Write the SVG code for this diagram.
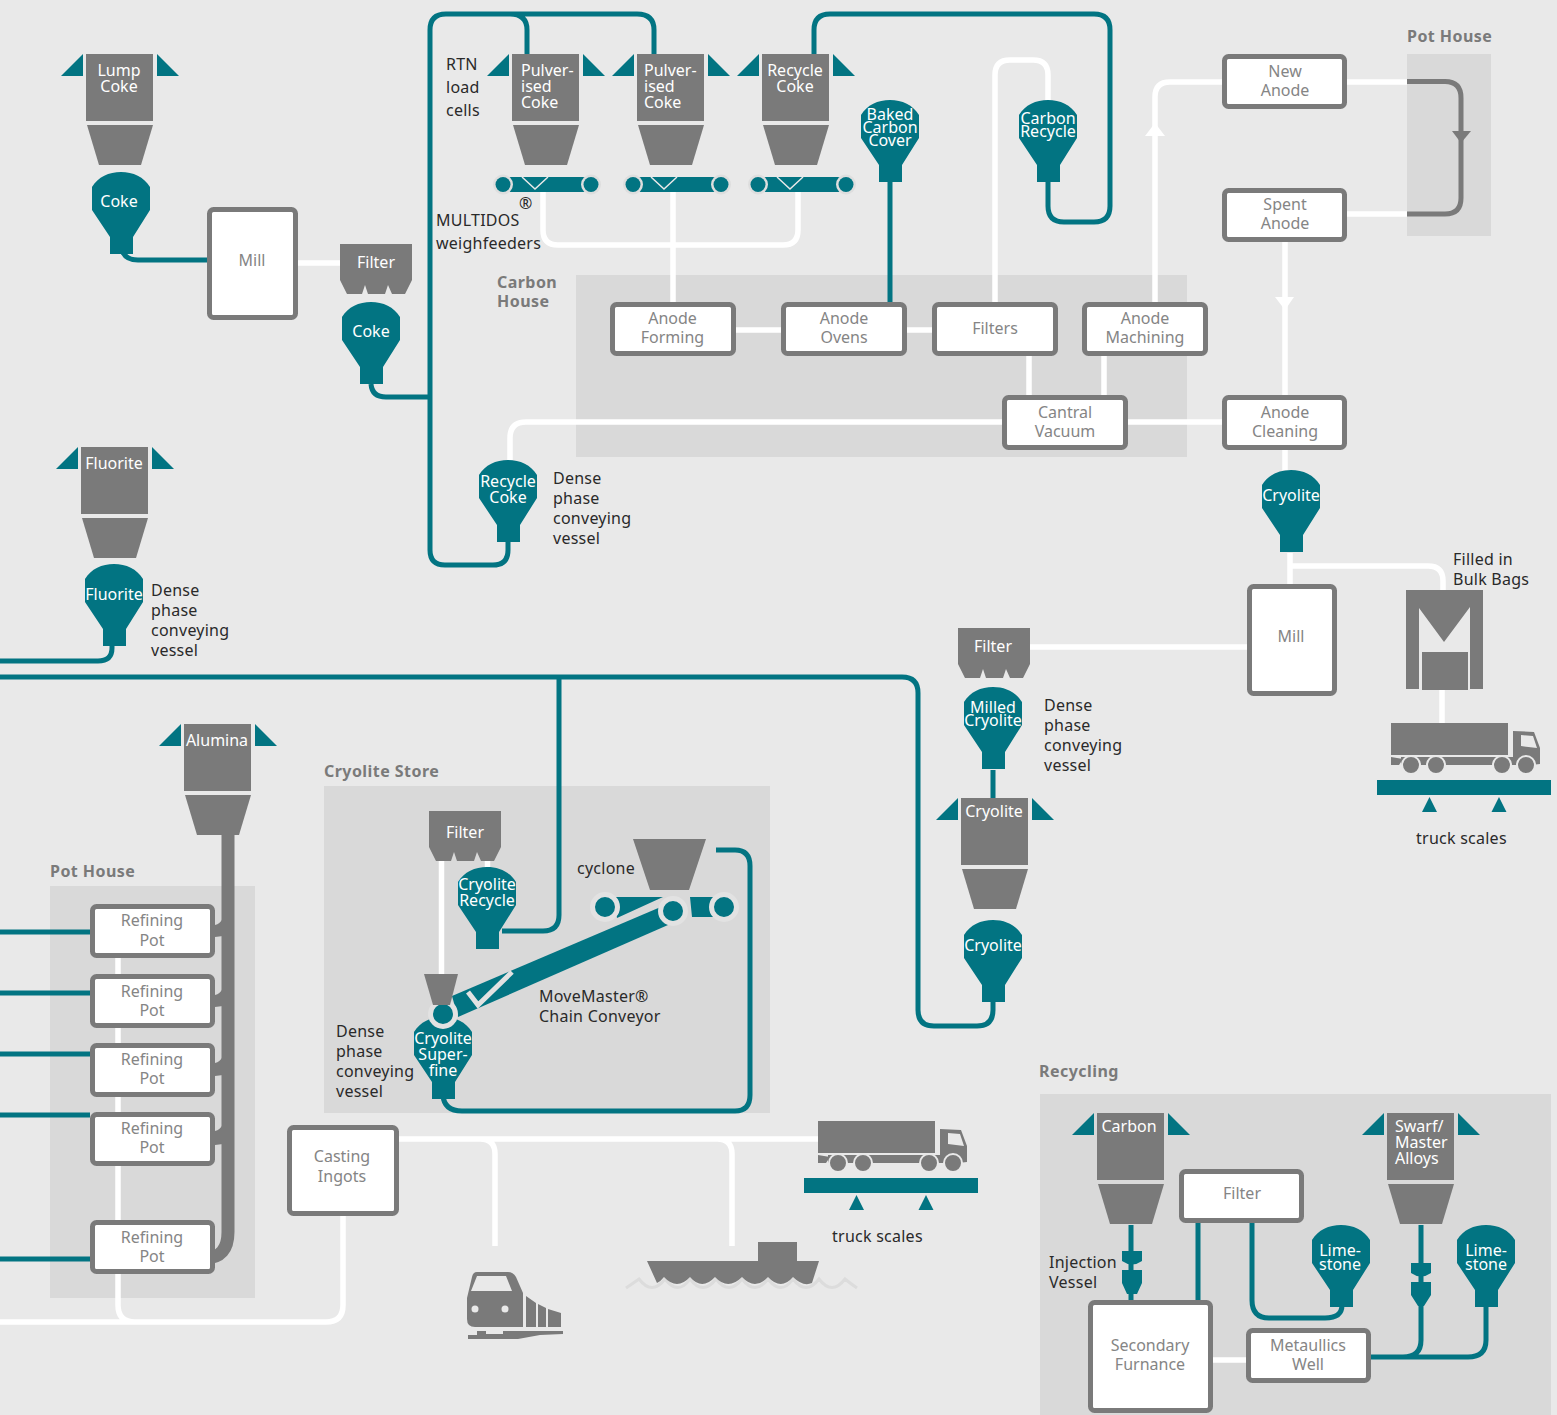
<svg xmlns="http://www.w3.org/2000/svg" xmlns:xlink="http://www.w3.org/1999/xlink" width="1557" height="1415" viewBox="0 0 1557 1415">
<style>
text{font-family:"Noto Sans","Open Sans","Liberation Sans",sans-serif;font-size:16px}
.panel{fill:#d9d9d9}
.box{fill:#fff;stroke:#7a7a7a;stroke-width:5}
.bt{fill:#858585;text-anchor:middle}
.wc{fill:#fff;text-anchor:middle}
.wl{fill:#fff}
.lab{fill:#2a2a2a;letter-spacing:.25px}
.hd{fill:#7a7a7a;font-weight:700;letter-spacing:.45px}
.g{fill:#7a7a7a}
.t{fill:#027482}
.wh{fill:none;stroke:#fff;stroke-width:5.5}
.tl{fill:none;stroke:#027482;stroke-width:5}
.gl{fill:none;stroke:#7a7a7a;stroke-width:5}
</style>
<defs>
<g id="silo"><rect class="g" width="67" height="67"/><path class="g" d="M1,71H67L55,111H13Z"/><path class="t" d="M-25,22H-3V0ZM71,0V22H93Z"/></g>
<path id="vessel" class="t" d="M0,15C6,5 17,0 29,0C41,0 52,5 58,15V38L41,65V82H18V65L0,38Z"/>
<path id="filter" class="g" d="M0,0H72V36L65,50H52L48,41L45,50H28L25,41L22,50H7L0,36Z"/>
<g id="belt"><rect class="t" x="8" y="0" width="88" height="15"/><circle cx="8" cy="7.5" r="10" fill="#dedede"/><circle cx="96" cy="7.5" r="10" fill="#dedede"/><circle class="t" cx="8" cy="7.5" r="7.5"/><circle class="t" cx="96" cy="7.5" r="7.5"/></g>
<g id="truck"><rect class="g" width="117" height="32"/><path class="g" d="M0,34L12,36L8,42H0ZM10,34H122V8L143,9L149,25V41L140,42H10Z"/><path fill="#e9e9e9" d="M130,12L142,13L146,25L130,23Z"/><g class="g" stroke="#e9e9e9" stroke-width="2"><circle cx="20" cy="42" r="9"/><circle cx="45" cy="42" r="9"/><circle cx="111" cy="42" r="9"/><circle cx="135" cy="42" r="9"/></g></g>
<g id="scale"><rect class="t" width="174" height="15"/><path class="t" d="M45,32L52.5,17L60,32ZM114.500,32L122,17L129.500,32Z"/></g>
</defs>
<rect width="1557" height="1415" fill="#e9e9e9"/>
<g id="panels">
<rect class="panel" x="1407" y="54" width="84" height="182"/>
<rect class="panel" x="576" y="275" width="611" height="182"/>
<rect class="panel" x="324" y="786" width="446" height="327"/>
<rect class="panel" x="50" y="886" width="205" height="412"/>
<rect class="panel" x="1040" y="1094" width="511" height="321"/>
<text class="hd" x="1407" y="42">Pot House</text>
<text class="hd" x="497" y="288">Carbon</text>
<text class="hd" x="497" y="307">House</text>
<text class="hd" x="324" y="777">Cryolite Store</text>
<text class="hd" x="50" y="877">Pot House</text>
<text class="hd" x="1039" y="1077">Recycling</text>
</g>
<g id="connectors">
<path class="wh" d="M298,263H340M543,192V230Q543,245 558,245H783Q798,245 798,230V192M673,192V302M736,330H781M907,330H932M995,303V75Q995,60 1010,60H1033Q1048,60 1048,75V100M1155,303V97Q1155,82 1170,82H1222M1347,82H1407M1347,214H1407M1285,241V395M1285,450V470M1029,356V395M1104,356V395M1128,422H1222M510,460V438Q510,422 526,422H1002M1290,553V584M1290,566H1428Q1443,566 1443,581V590M1442,690V723M1029,647H1247M441.500,861V975M487.500,861V867M118,958V1305Q118,1322 135,1322H326Q343,1322 343,1305V1216M0,1322H135M399,1139H818M480,1139Q495,1139 495,1154V1246M717,1139Q732,1139 732,1154V1246M1213,1360H1246"/>
<path fill="#fff" d="M1145,136H1165L1155,123ZM1275,297H1294L1285,310Z"/>
<path class="gl" d="M1407,81.500H1445Q1461,81.500 1461,98V198Q1461,214 1445,214H1407"/>
<path class="g" d="M1452,131H1471L1461,143Z"/>
<path class="tl" d="M508,540V550Q508,565 493,565H445Q430,565 430,550V30Q430,14 446,14H637Q654,14 654,30V54M510,14Q527,14 527,30V54M814,54V30Q814,14 830,14H1094Q1110,14 1110,30V206Q1110,222 1094,222H1064Q1048,222 1048,206V180M890,180V303M122,250Q125,260 138,260H207M371,384Q372,397 386,397H430M112,645V648Q112,661 98,661H0M993,1000V1010Q993,1026 977,1026H934Q918,1026 918,1010V693Q918,677 902,677H0M559,677V915Q559,931 543,931H502M993,770V798M443,1095Q444,1111 462,1111H735Q750,1111 750,1095V866Q750,850 735,850H716M0,932H90M0,993H90M0,1054H90M0,1115H90M0,1259H90M1131,1225V1302M1198,1223V1300M1252,1223V1300Q1252,1318 1269,1318H1325Q1342,1318 1342,1305M1371,1357H1468Q1486,1357 1486,1340V1307M1421,1225V1340Q1421,1357 1403,1357"/>
<path fill="none" stroke="#7a7a7a" stroke-width="13" d="M228,834V1232Q228,1258 205,1258"/>
<path class="g" d="M215,925Q220,924 223,918V936L215,937ZM215,995Q220,994 223,988V1006L215,1007ZM215,1063Q220,1062 223,1056V1075L215,1076ZM215,1131Q220,1130 223,1124V1144L215,1145Z"/>
</g>
<g id="lump-coke-silo"><use href="#silo" x="86" y="54"/><text class="wc" x="119" y="76">Lump</text><text class="wc" x="119" y="92">Coke</text></g>
<g id="coke-vessel-1"><use href="#vessel" x="92" y="172"/><text class="wc" x="119" y="207">Coke</text></g>
<g id="mill-1"><rect class="box" x="209.500" y="209.500" width="86" height="108" rx="4"/><text class="bt" x="252" y="266">Mill</text></g>
<g id="filter-1"><use href="#filter" x="340" y="244"/><text class="wc" x="376" y="268">Filter</text></g>
<g id="coke-vessel-2"><use href="#vessel" x="342" y="302"/><text class="wc" x="371" y="337">Coke</text></g>
<g id="pulverised-silo-1"><use href="#silo" x="512" y="54"/><text class="wl" x="521" y="76">Pulver-</text><text class="wl" x="521" y="92">ised</text><text class="wl" x="521" y="108">Coke</text></g>
<g id="pulverised-silo-2"><use href="#silo" x="637" y="54"/><text class="wl" x="644" y="76">Pulver-</text><text class="wl" x="644" y="92">ised</text><text class="wl" x="644" y="108">Coke</text></g>
<g id="recycle-coke-silo"><use href="#silo" x="762" y="54"/><text class="wc" x="795" y="76">Recycle</text><text class="wc" x="795" y="92">Coke</text></g>
<g id="weighfeeder-1"><use href="#belt" x="495" y="177"/><path fill="none" stroke="#e9e9e9" stroke-width="1.500" d="M522,177L535,189L548,177"/></g>
<g id="weighfeeder-2"><use href="#belt" x="625" y="177"/><path fill="none" stroke="#e9e9e9" stroke-width="1.500" d="M651,177L664,189L677,177"/></g>
<g id="weighfeeder-3"><use href="#belt" x="750" y="177"/><path fill="none" stroke="#e9e9e9" stroke-width="1.500" d="M777,177L790,189L803,177"/></g>
<g id="baked-carbon-cover"><use href="#vessel" x="861" y="100"/><text class="wc" x="890" y="120">Baked</text><text class="wc" x="890" y="133">Carbon</text><text class="wc" x="890" y="146">Cover</text></g>
<g id="carbon-recycle"><use href="#vessel" x="1019" y="100"/><text class="wc" x="1048" y="124">Carbon</text><text class="wc" x="1048" y="137">Recycle</text></g>
<g id="new-anode"><rect class="box" x="1224.500" y="56.500" width="120" height="50" rx="4"/><text class="bt" x="1285" y="77">New</text><text class="bt" x="1285" y="96">Anode</text></g>
<g id="spent-anode"><rect class="box" x="1224.500" y="190.500" width="120" height="49" rx="4"/><text class="bt" x="1285" y="210">Spent</text><text class="bt" x="1285" y="229">Anode</text></g>
<g id="anode-forming"><rect class="box" x="612.500" y="304.500" width="121" height="49" rx="4"/><text class="bt" x="672.500" y="324">Anode</text><text class="bt" x="672.500" y="343">Forming</text></g>
<g id="anode-ovens"><rect class="box" x="783.500" y="304.500" width="121" height="49" rx="4"/><text class="bt" x="844" y="324">Anode</text><text class="bt" x="844" y="343">Ovens</text></g>
<g id="filters"><rect class="box" x="934.500" y="304.500" width="121" height="49" rx="4"/><text class="bt" x="995" y="334">Filters</text></g>
<g id="anode-machining"><rect class="box" x="1084.500" y="304.500" width="121" height="49" rx="4"/><text class="bt" x="1145" y="324">Anode</text><text class="bt" x="1145" y="343">Machining</text></g>
<g id="cantral-vacuum"><rect class="box" x="1004.500" y="397.500" width="121" height="50" rx="4"/><text class="bt" x="1065" y="418">Cantral</text><text class="bt" x="1065" y="437">Vacuum</text></g>
<g id="anode-cleaning"><rect class="box" x="1224.500" y="397.500" width="120" height="50" rx="4"/><text class="bt" x="1285" y="418">Anode</text><text class="bt" x="1285" y="437">Cleaning</text></g>
<g id="recycle-coke-vessel"><use href="#vessel" x="479" y="460"/><text class="wc" x="508" y="487">Recycle</text><text class="wc" x="508" y="503">Coke</text></g>
<g id="fluorite-silo"><use href="#silo" x="81" y="447"/><text class="wc" x="114" y="469">Fluorite</text></g>
<g id="fluorite-vessel"><use href="#vessel" x="85" y="564"/><text class="wc" x="114" y="600">Fluorite</text></g>
<g id="cryolite-vessel-top"><use href="#vessel" x="1262" y="470"/><text class="wc" x="1291" y="501">Cryolite</text></g>
<g id="mill-2"><rect class="box" x="1249.500" y="586.500" width="85" height="107" rx="4"/><text class="bt" x="1291" y="642">Mill</text></g>
<g id="bulk-bags"><path class="g" d="M1406,590H1483V689H1470V607L1444,642L1419,608V689H1406Z"/><rect class="g" x="1422" y="652" width="46" height="38"/></g>
<g id="truck-1"><use href="#truck" x="1391" y="723"/></g>
<g id="scales-1"><use href="#scale" x="1377" y="780"/></g>
<g id="filter-2"><use href="#filter" x="958" y="628"/><text class="wc" x="993" y="652">Filter</text></g>
<g id="milled-cryolite"><use href="#vessel" x="964" y="687"/><text class="wc" x="993" y="713">Milled</text><text class="wc" x="993" y="726">Cryolite</text></g>
<g id="cryolite-silo"><use href="#silo" x="961" y="798"/><text class="wc" x="994" y="817">Cryolite</text></g>
<g id="cryolite-vessel-low"><use href="#vessel" x="964" y="920"/><text class="wc" x="993" y="951">Cryolite</text></g>
<g id="alumina-silo"><use href="#silo" x="184" y="724"/><text class="wc" x="217" y="746">Alumina</text></g>
<g id="pot-1"><rect class="box" x="92.500" y="906.500" width="120" height="49" rx="4"/><text class="bt" x="152" y="926">Refining</text><text class="bt" x="152" y="946">Pot</text></g>
<g id="pot-2"><rect class="box" x="92.500" y="976.500" width="120" height="49" rx="4"/><text class="bt" x="152" y="997">Refining</text><text class="bt" x="152" y="1016">Pot</text></g>
<g id="pot-3"><rect class="box" x="92.500" y="1045.500" width="120" height="49" rx="4"/><text class="bt" x="152" y="1065">Refining</text><text class="bt" x="152" y="1084">Pot</text></g>
<g id="pot-4"><rect class="box" x="92.500" y="1114.500" width="120" height="49" rx="4"/><text class="bt" x="152" y="1134">Refining</text><text class="bt" x="152" y="1153">Pot</text></g>
<g id="pot-5"><rect class="box" x="92.500" y="1222.500" width="120" height="49" rx="4"/><text class="bt" x="152" y="1243">Refining</text><text class="bt" x="152" y="1262">Pot</text></g>
<g id="filter-3"><use href="#filter" x="429" y="811"/><text class="wc" x="465" y="838">Filter</text></g>
<g id="cryolite-recycle"><use href="#vessel" x="458" y="867"/><text class="wc" x="487" y="890">Cryolite</text><text class="wc" x="487" y="906">Recycle</text></g>
<g id="cyclone"><path class="g" d="M633,839H706L689,890H650Z"/></g>
<g id="cryolite-superfine"><use href="#vessel" x="414" y="1017"/></g>
<g id="chain-conveyor">
<path class="t" d="M613,897H663L617,918ZM690,897H715V917H692Z"/>
<path class="t" d="M663,906L452,996L458,1017L668,925Z"/>
<path fill="none" stroke="#e2e2e2" stroke-width="5" d="M468,992L478,1005L512,972"/>
<g class="t" stroke="#e2e2e2" stroke-width="5"><circle cx="605" cy="907" r="12.500"/><circle cx="673" cy="911" r="12.500"/><circle cx="724" cy="907" r="12.500"/><circle cx="443" cy="1014" r="12.500"/></g>
</g>
<g id="cryolite-superfine-label"><text class="wc" x="443" y="1044">Cryolite</text><text class="wc" x="443" y="1060">Super-</text><text class="wc" x="443" y="1076">fine</text></g>
<g id="small-hopper"><path class="g" d="M424,974H458L450,1005H433Z"/></g>
<g id="casting-ingots"><rect class="box" x="289.500" y="1127.500" width="107" height="86" rx="4"/><text class="bt" x="342" y="1162">Casting</text><text class="bt" x="342" y="1182">Ingots</text></g>
<g id="truck-2"><use href="#truck" x="818" y="1121"/></g>
<g id="scales-2"><use href="#scale" x="804" y="1178"/></g>
<g id="train">
<path class="g" d="M477,1272H508Q513,1272 516,1277L523,1293V1327H475Q467,1327 467,1319V1298L472,1277Q473,1272 477,1272Z"/>
<path fill="#e9e9e9" d="M477,1276H506L512,1291H471Z"/>
<circle cx="475" cy="1309" r="3.500" fill="#e9e9e9"/><circle cx="505" cy="1309" r="3.500" fill="#e9e9e9"/>
<path class="g" d="M526,1296L536,1303V1327H526ZM538,1304L546,1308V1327H538ZM548,1309L561,1313V1327H548Z"/>
<path class="g" d="M468,1335H477V1331H486V1334H503V1331H563V1334L540,1335L518,1339H468Z"/>
</g>
<g id="ship">
<path fill="none" stroke="#dcdcdc" stroke-width="3" d="M626,1288Q632,1284 639,1279Q652,1296 665,1279Q678,1296 690,1279Q703,1296 716,1279Q729,1296 742,1279Q755,1296 768,1279Q781,1296 793,1279Q806,1296 819,1279Q832,1296 845,1279Q851,1284 857,1288"/>
<path class="g" d="M647,1261H758V1242H797V1261H819L812,1283Q803,1287 793,1277Q781,1291 768,1277Q755,1291 742,1277Q728,1291 715,1277Q702,1291 690,1277Q677,1291 664,1277Q661,1281 657,1283Z"/>
</g>
<g id="carbon-silo"><use href="#silo" x="1097" y="1113"/><text class="wc" x="1129" y="1132">Carbon</text></g>
<g id="swarf-silo"><use href="#silo" x="1387" y="1113"/><text class="wl" x="1395" y="1132">Swarf/</text><text class="wl" x="1395" y="1148">Master</text><text class="wl" x="1395" y="1164">Alloys</text></g>
<g id="filter-box"><rect class="box" x="1181.500" y="1171.500" width="120" height="49" rx="4"/><text class="bt" x="1242" y="1199">Filter</text></g>
<g id="injection-1"><path class="t" d="M1122,1251H1142V1261Q1132,1268 1122,1261ZM1122,1270H1142V1283L1137,1294H1127L1122,1283Z"/></g>
<g id="injection-2"><path class="t" d="M1411,1263H1431V1273Q1421,1280 1411,1273ZM1411,1282H1431V1295L1424,1306H1418L1411,1295Z"/></g>
<g id="limestone-1"><use href="#vessel" x="1312" y="1225"/><text class="wc" x="1340" y="1256">Lime-</text><text class="wc" x="1340" y="1270">stone</text></g>
<g id="limestone-2"><use href="#vessel" x="1457" y="1225"/><text class="wc" x="1486" y="1256">Lime-</text><text class="wc" x="1486" y="1270">stone</text></g>
<g id="secondary-furnace"><rect class="box" x="1090.500" y="1302.500" width="120" height="108" rx="4"/><text class="bt" x="1150" y="1351">Secondary</text><text class="bt" x="1150" y="1370">Furnance</text></g>
<g id="metaullics-well"><rect class="box" x="1248.500" y="1330.500" width="120" height="50" rx="4"/><text class="bt" x="1308" y="1351">Metaullics</text><text class="bt" x="1308" y="1370">Well</text></g>
<g id="labels">
<text class="lab" x="446" y="70">RTN</text><text class="lab" x="446" y="93">load</text><text class="lab" x="446" y="116">cells</text>
<text class="lab" x="436" y="226">MULTIDOS</text><text class="lab" x="519" y="209">®</text><text class="lab" x="436" y="249">weighfeeders</text>
<text class="lab" x="553" y="484">Dense</text><text class="lab" x="553" y="504">phase</text><text class="lab" x="553" y="524">conveying</text><text class="lab" x="553" y="544">vessel</text>
<text class="lab" x="151" y="596">Dense</text><text class="lab" x="151" y="616">phase</text><text class="lab" x="151" y="636">conveying</text><text class="lab" x="151" y="656">vessel</text>
<text class="lab" x="1044" y="711">Dense</text><text class="lab" x="1044" y="731">phase</text><text class="lab" x="1044" y="751">conveying</text><text class="lab" x="1044" y="771">vessel</text>
<text class="lab" x="1453" y="565">Filled in</text><text class="lab" x="1453" y="585">Bulk Bags</text>
<text class="lab" x="1416" y="844">truck scales</text><text class="lab" x="832" y="1242">truck scales</text>
<text class="lab" x="577" y="874">cyclone</text>
<text class="lab" x="539" y="1002">MoveMaster®</text><text class="lab" x="539" y="1022">Chain Conveyor</text>
<text class="lab" x="336" y="1037">Dense</text><text class="lab" x="336" y="1057">phase</text><text class="lab" x="336" y="1077">conveying</text><text class="lab" x="336" y="1097">vessel</text>
<text class="lab" x="1049" y="1268">Injection</text><text class="lab" x="1049" y="1288">Vessel</text>
</g>
</svg>
